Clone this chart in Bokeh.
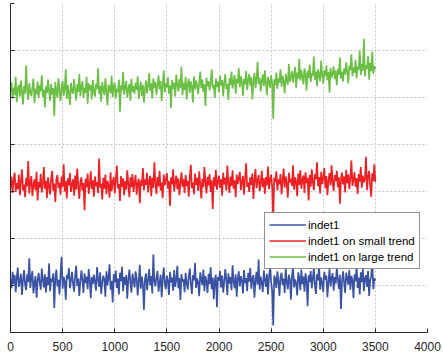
from bokeh.plotting import figure
from bokeh.models import Range1d, FixedTicker, Legend, LegendItem, CustomJSTickFormatter
from bokeh.embed import file_html
from bokeh.resources import INLINE

x = list(range(0, 3510, 10))

x_ticks = [0, 500, 1000, 1500, 2000, 2500, 3000, 3500, 4000]
y_ticks = [-1, 0, 1, 2, 3, 4, 5, 6]

series_names = ["indet1", "indet1 on small trend", "indet1 on large trend"]

indet1 = [
    0.14, -0.06, 0.29, 0.03, 0.22, -0.14, 0.17, 0.38, -0.03, 0.10,
    0.25, -0.20, 0.12, 0.33, 0.02, -0.10, 0.24, 0.07, 0.58, -0.05,
    0.16, 0.31, -0.17, 0.05, 0.20, -0.26, 0.11, 0.27, 0.06, -0.09,
    0.36, 0.13, -0.04, 0.24, -0.15, 0.18, 0.01, 0.47, -0.12, 0.15,
    0.08, 0.26, -0.48, 0.16, 0.34, -0.02, 0.12, -0.19, 0.25, 0.61,
    -0.07, 0.19, 0.09, -0.30, 0.22, 0.14, 0.37, -0.06, 0.10, 0.29,
    0.04, -0.13, 0.21, 0.42, -0.01, 0.15, -0.22, 0.09, 0.32, 0.11,
    -0.16, 0.26, 0.05, 0.19, -0.08, 0.35, 0.12, -0.27, 0.18, 0.03,
    0.23, 0.08, -0.11, 0.39, 0.14, -0.03, 0.28, -0.18, 0.06, 0.21,
    0.13, -0.24, 0.30, 0.01, 0.17, 0.45, -0.09, 0.10, -0.36, 0.24,
    0.07, 0.32, -0.05, 0.15, -0.19, 0.27, 0.09, 0.40, -0.12, 0.18,
    0.02, 0.22, -0.28, 0.13, 0.34, 0.06, -0.15, 0.25, 0.11, -0.04,
    0.30, 0.16, -0.21, 0.08, 0.44, -0.07, 0.19, 0.03, -0.52, 0.14,
    0.26, -0.10, 0.12, 0.35, 0.00, 0.20, -0.17, 0.66, 0.09, -0.02,
    0.18, 0.31, -0.13, 0.05, 0.23, -0.25, 0.15, 0.38, 0.04, -0.08,
    0.21, 0.10, -0.20, 0.29, 0.07, 0.17, -0.11, 0.33, -0.03, 0.12,
    0.42, -0.06, 0.16, -0.31, 0.24, 0.08, 0.13, -0.14, 0.27, 0.05,
    -0.09, 0.19, 0.36, 0.02, -0.18, 0.22, 0.11, 0.48, -0.05, 0.15,
    0.06, -0.23, 0.28, 0.14, 0.01, 0.34, -0.12, 0.20, 0.09, -0.16,
    0.25, 0.03, 0.39, -0.08, 0.17, -0.29, 0.12, 0.23, -0.46, 0.18,
    0.10, 0.31, -0.04, 0.21, -0.15, 0.07, 0.35, 0.13, -0.20, 0.26,
    0.04, 0.18, -0.10, 0.43, 0.09, -0.06, 0.24, -0.24, 0.15, 0.30,
    -0.02, 0.20, 0.11, -0.17, 0.33, 0.05, 0.16, -0.12, 0.27, 0.08,
    0.37, -0.07, 0.14, 0.22, -0.26, 0.10, 0.29, 0.02, 0.55, -0.09,
    0.19, 0.06, -0.14, 0.32, 0.12, -0.03, 0.25, -0.19, 0.17, 0.40,
    0.08, -0.11, -0.85, 0.21, 0.14, -0.05, 0.30, 0.09, -0.22, 0.18,
    0.27, 0.01, 0.15, -0.16, 0.36, 0.07, -0.08, 0.23, 0.12, -0.30,
    0.20, 0.41, -0.04, 0.13, 0.05, -0.21, 0.28, 0.16, -0.10, 0.34,
    0.03, 0.19, -0.13, 0.26, 0.10, -0.44, 0.22, 0.07, 0.31, -0.06,
    0.15, 0.38, 0.00, -0.18, 0.24, 0.11, 0.46, -0.09, 0.17, 0.06,
    -0.14, 0.29, 0.12, 0.21, -0.25, 0.08, 0.35, -0.02, 0.16, 0.26,
    -0.11, 0.18, 0.04, 0.39, 0.13, -0.07, 0.23, -0.50, 0.10, 0.30,
    0.06, -0.16, 0.27, 0.15, 0.02, 0.33, -0.09, 0.20, 0.12, -0.27,
    0.24, 0.09, 0.43, -0.05, 0.17, -0.19, 0.28, 0.07, 0.36, -0.12,
    0.14, 0.22, -0.03, 0.31, -0.22, 0.11, 0.19, 0.52, -0.08, 0.16,
    0.10,
]

indet1_small_trend = [
    2.09, 2.31, 1.97, 2.24, 2.40, 1.99, 2.18, 2.05, 2.36, 1.92,
    2.21, 2.47, 2.02, 2.15, 1.88, 2.29, 2.11, 2.65, 1.96, 2.19,
    2.33, 1.90, 2.14, 2.26, 2.03, 2.42, 1.81, 2.20, 2.08, 2.37,
    1.98, 2.16, 2.52, 2.06, 2.23, 1.86, 2.30, 2.12, 1.94, 2.27,
    2.44, 2.01, 2.17, 1.78, 2.25, 2.35, 2.07, 2.19, 1.93, 2.32,
    2.10, 2.58, 2.00, 2.22, 1.85, 2.28, 2.13, 2.39, 1.99, 2.15,
    2.26, 1.91, 2.34, 2.04, 2.49, 2.12, 1.84, 2.21, 2.30, 2.02,
    2.18, 1.60, 2.27, 2.09, 2.38, 1.95, 2.14, 2.43, 2.05, 2.24,
    1.89, 2.32, 2.11, 2.20, 1.97, 2.70, 2.08, 2.17, 1.83, 2.29,
    2.06, 2.36, 1.94, 2.23, 2.13, 1.87, 2.41, 2.01, 2.19, 2.31,
    1.96, 2.25, 2.55, 2.07, 2.16, 1.80, 2.33, 2.10, 2.28, 1.92,
    2.22, 2.04, 2.45, 2.15, 1.88, 2.30, 2.09, 2.37, 1.99, 2.20,
    2.35, 1.93, 2.18, 2.27, 1.75, 2.24, 2.12, 2.50, 2.03, 2.26,
    2.14, 2.40, 1.98, 2.21, 2.33, 1.90, 2.29, 2.08, 2.62, 2.17,
    1.95, 2.31, 2.11, 2.44, 2.02, 2.19, 1.86, 2.36, 2.13, 2.25,
    2.39, 2.06, 2.22, 1.69, 2.30, 2.15, 2.47, 2.00, 2.20, 2.34,
    2.05, 2.28, 1.92, 2.18, 2.41, 2.10, 2.26, 1.97, 2.35, 2.12,
    2.23, 1.89, 2.32, 2.57, 2.07, 2.19, 1.94, 2.38, 2.14, 2.29,
    2.01, 2.43, 2.16, 1.85, 2.27, 2.09, 2.52, 2.20, 1.96, 2.31,
    2.13, 2.37, 1.99, 2.24, 1.63, 2.30, 2.11, 2.46, 2.04, 2.21,
    2.34, 2.08, 2.26, 1.91, 2.40, 2.15, 2.29, 2.02, 2.55, 2.18,
    1.97, 2.32, 2.12, 2.45, 2.06, 2.24, 1.88, 2.36, 2.16, 2.28,
    2.42, 2.03, 2.21, 2.33, 1.93, 2.27, 2.60, 2.10, 2.19, 1.99,
    2.30, 2.14, 2.38, 1.84, 2.25, 2.48, 2.07, 2.22, 2.35, 2.01,
    2.17, 2.44, 2.09, 2.28, 1.95, 2.31, 2.13, 2.53, 2.05, 2.24,
    2.36, 2.11, 1.40, 2.29, 2.20, 2.43, 2.02, 2.26, 2.15, 2.37,
    1.94, 2.23, 2.49, 2.08, 2.32, 2.17, 1.87, 2.40, 2.19, 2.27,
    2.12, 2.56, 2.04, 2.30, 2.21, 1.90, 2.38, 2.14, 2.45, 2.06,
    2.25, 2.34, 1.97, 2.41, 2.18, 2.29, 1.81, 2.35, 2.10, 2.47,
    2.20, 2.03, 2.37, 2.26, 2.62, 2.11, 2.31, 1.96, 2.42, 2.16,
    2.28, 2.50, 2.07, 2.33, 1.92, 2.24, 2.39, 2.13, 2.56, 2.19,
    2.01, 2.35, 2.22, 2.44, 2.09, 2.30, 1.74, 2.27, 2.40, 2.15,
    2.32, 1.98, 2.46, 2.18, 2.36, 2.05, 2.29, 2.66, 2.12, 2.25,
    2.41, 2.10, 2.28, 1.95, 2.37, 2.21, 2.52, 2.08, 2.34, 2.19,
    2.26, 2.74, 2.03, 2.31, 2.44, 2.14, 1.89, 2.39, 2.22, 2.58,
    2.20,
]

indet1_large_trend = [
    4.10, 4.32, 3.98, 4.21, 4.05, 4.44, 3.90, 4.18, 4.27, 4.02,
    4.36, 4.12, 3.85, 4.25, 4.08, 4.68, 4.15, 3.95, 4.30, 4.11,
    4.03, 4.22, 4.40, 3.88, 4.19, 4.07, 4.34, 3.99, 4.26, 4.13,
    4.47, 4.01, 4.17, 3.79, 4.24, 4.09, 4.38, 4.14, 3.93, 4.29,
    4.06, 4.20, 3.60, 4.33, 4.12, 4.00, 4.41, 4.16, 3.92, 4.23,
    4.35, 4.04, 4.18, 4.60, 3.97, 4.27, 4.10, 3.84, 4.31, 4.14,
    4.08, 4.39, 4.17, 3.94, 4.28, 4.12, 4.50, 4.03, 4.24, 4.35,
    3.99, 4.21, 4.10, 4.44, 3.87, 4.30, 4.15, 4.26, 3.96, 4.37,
    4.13, 4.02, 4.29, 4.18, 4.62, 4.07, 4.25, 3.91, 4.33, 4.19,
    4.05, 4.41, 4.14, 3.83, 4.27, 4.20, 4.09, 4.46, 4.01, 4.23,
    4.32, 3.98, 4.19, 4.11, 4.38, 3.70, 4.26, 4.15, 4.54, 4.06,
    4.22, 4.35, 4.00, 4.17, 4.29, 3.93, 4.40, 4.12, 4.24, 4.08,
    4.31, 4.16, 4.45, 3.97, 4.21, 4.34, 4.04, 4.27, 3.89, 4.18,
    4.36, 4.09, 4.25, 4.52, 4.14, 4.30, 3.98, 4.41, 4.20, 4.33,
    4.06, 4.28, 4.47, 4.17, 4.35, 3.92, 4.24, 4.58, 4.11, 4.30,
    4.22, 4.43, 4.08, 4.26, 3.78, 4.37, 4.19, 4.31, 4.02, 4.49,
    4.27, 4.13, 4.39, 4.21, 4.66, 4.05, 4.32, 4.16, 4.44, 3.96,
    4.29, 4.40, 4.10, 4.34, 4.23, 3.90, 4.45, 4.18, 4.36, 4.25,
    4.07, 4.33, 4.55, 4.20, 4.38, 4.12, 4.28, 3.82, 4.42, 4.24,
    4.35, 4.15, 4.31, 4.60, 4.19, 4.27, 3.99, 4.40, 4.22, 4.34,
    4.11, 4.46, 4.26, 4.37, 4.03, 4.32, 4.50, 4.18, 4.29, 3.95,
    4.41, 4.27, 4.55, 4.19, 4.36, 4.48, 4.08, 4.39, 4.30, 4.62,
    4.22, 4.45, 4.33, 4.04, 4.40, 4.28, 4.57, 4.16, 4.37, 4.50,
    4.25, 4.43, 3.96, 4.35, 4.52, 4.20, 4.38, 4.76, 4.29, 4.42,
    4.13, 4.36, 4.49, 4.24, 4.58, 4.31, 4.05, 4.44, 4.34, 4.21,
    4.47, 4.30, 3.55, 4.39, 4.26, 4.53, 4.18, 4.41, 4.32, 4.60,
    4.23, 4.46, 4.35, 4.09, 4.50, 4.38, 4.27, 4.71, 4.33, 4.44,
    4.56, 4.32, 4.48, 4.65, 4.21, 4.53, 4.40, 4.82, 4.36, 4.59,
    4.44, 4.28, 4.62, 4.50, 4.15, 4.57, 4.41, 4.70, 4.33, 4.52,
    4.46, 4.87, 4.38, 4.55, 4.24, 4.60, 4.47, 4.35, 4.78, 4.49,
    4.30, 4.58, 4.45, 4.68, 4.37, 4.54, 4.10, 4.63, 4.42, 4.51,
    4.66, 4.39, 4.57, 4.26, 4.61, 4.48, 4.85, 4.40, 4.55, 4.34,
    4.62, 4.49, 4.75, 4.55, 4.30, 4.68, 4.58, 4.92, 4.46, 4.64,
    4.53, 4.80, 4.41, 4.66, 4.59, 5.00, 4.48, 4.71, 4.57, 5.25,
    4.45, 4.69, 4.61, 4.88, 4.38, 4.74, 4.56, 4.97, 4.50, 4.67,
    4.60,
]

colors = ["#3a52a4", "#ed2024", "#6bbf44"]
FONT = "Liberation Sans"
AXIS = "#262626"

p = figure(width=443, height=358, x_range=Range1d(0, 4000), y_range=Range1d(-1, 6),
           output_backend="svg", toolbar_location=None,
           min_border_left=10, min_border_right=16, min_border_top=3, min_border_bottom=26)
p.outline_line_color = None
p.background_fill_color = "white"

r1 = p.line(x, indet1, line_color=colors[0], line_width=1.7)
r2 = p.line(x, indet1_small_trend, line_color=colors[1], line_width=1.7)
r3 = p.line(x, indet1_large_trend, line_color=colors[2], line_width=1.7)

p.xaxis.ticker = FixedTicker(ticks=x_ticks)
p.yaxis.ticker = FixedTicker(ticks=y_ticks)
p.yaxis.formatter = CustomJSTickFormatter(code="return '';")
p.yaxis.major_label_standoff = 0

for ax in (p.xaxis, p.yaxis):
    ax.axis_line_color = AXIS
    ax.axis_line_width = 1
    ax.major_tick_line_color = AXIS
    ax.major_tick_in = 4
    ax.major_tick_out = 0
    ax.minor_tick_line_color = None
    ax.major_label_text_font = FONT
    ax.major_label_text_font_size = "12px"
    ax.major_label_text_color = AXIS
p.xaxis.major_label_standoff = 9

for g in (p.xgrid, p.ygrid):
    g.grid_line_color = "#c4c4c4"
    g.grid_line_dash = "2 2"
    g.grid_line_width = 1

legend = Legend(items=[LegendItem(label=series_names[0], renderers=[r1]),
                       LegendItem(label=series_names[1], renderers=[r2]),
                       LegendItem(label=series_names[2], renderers=[r3])],
                location=(254, 63))
legend.border_line_color = AXIS
legend.border_line_width = 1
legend.background_fill_color = "white"
legend.background_fill_alpha = 1
legend.label_text_font = FONT
legend.label_text_font_size = "11.5px"
legend.label_text_color = "#000000"
legend.glyph_width = 37
legend.glyph_height = 15
legend.label_height = 15
legend.padding = 4
legend.spacing = 1
legend.label_standoff = 2
legend.margin = 0
p.add_layout(legend)

open("out.html", "w").write(file_html(p, INLINE))
